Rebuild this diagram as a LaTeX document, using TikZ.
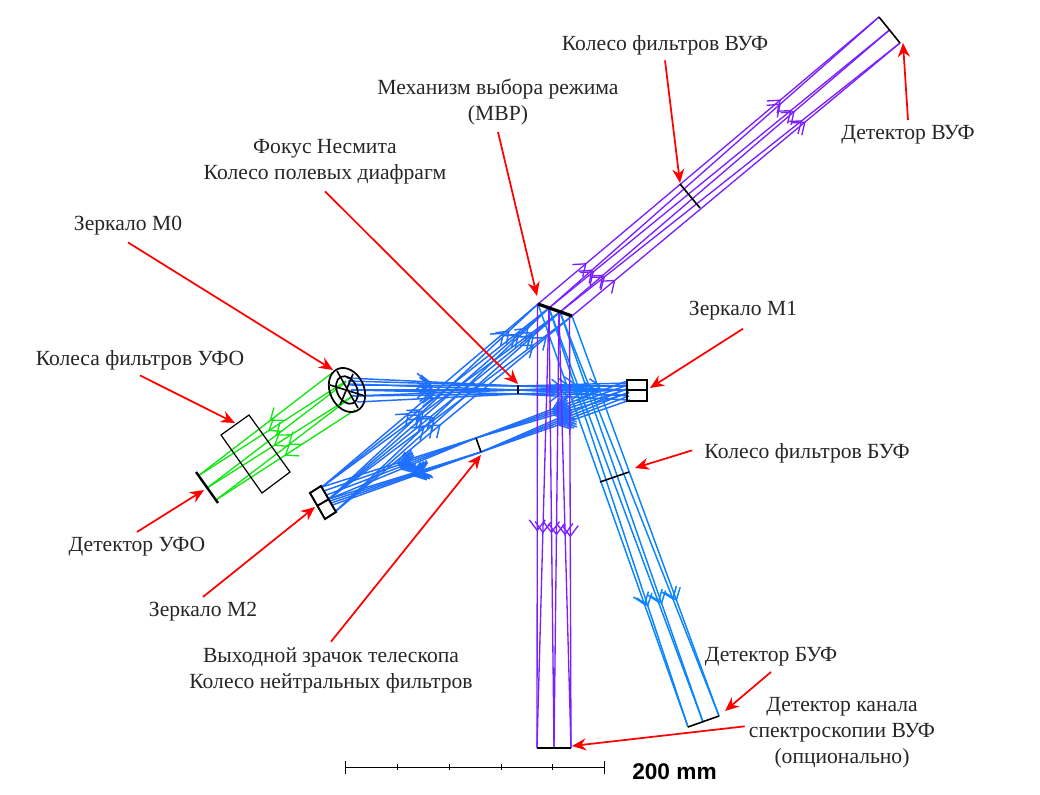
\documentclass[tikz,border=0pt]{standalone}
\usepackage{fontspec}
\setmainfont{Liberation Serif}
\newfontfamily\scalefont{Liberation Sans}
\usetikzlibrary{arrows.meta,calc,decorations.markings}
\definecolor{uvcol}{HTML}{12E612}
\definecolor{bluecol}{HTML}{1F6FFF}
\definecolor{fuvcol}{HTML}{0A84FF}
\definecolor{vuvcol}{HTML}{7A1FFF}
\definecolor{txtcol}{HTML}{262626}
\tikzset{
  lbl/.style={text=txtcol,align=center,inner sep=0pt,font=\fontsize{16.2}{19.5}\selectfont},
  callout/.style={red,line width=1.3pt,-{Stealth[length=10.5pt,width=9pt]}},
  optic/.style={black,line width=1.2pt},
  barbat/.style={postaction={decorate,decoration={markings,mark=at position #1 with {\draw (-8pt,6pt) -- (0pt,0pt) -- (-8pt,-6pt);}}}},
  greenray/.style={uvcol,line width=1pt},
  blueray/.style={bluecol,line width=1.1pt},
  fuvray/.style={fuvcol,line width=1.1pt},
  vuvray/.style={vuvcol,line width=1pt}
}
\begin{document}
\begin{tikzpicture}[x=0.75pt,y=-0.75pt]
  \useasboundingbox (0,0) rectangle (1040,795);
  % points of the optics
  \coordinate (Q1) at (538,304);
  \coordinate (Q2) at (549,308);
  \coordinate (Q3) at (560,312);
  \coordinate (Q4) at (572,316);
  \coordinate (P1) at (322,487);
  \coordinate (P2) at (329,499);
  \coordinate (P3) at (336,511);
  \coordinate (PU) at (476,438);
  \coordinate (PL) at (481,452);
  \coordinate (V1) at (879,17);
  \coordinate (V2) at (889.5,30);
  \coordinate (V3) at (900,43);
  \coordinate (B1) at (688,727);
  \coordinate (B2) at (703,722);
  \coordinate (B3) at (719,716);
  \coordinate (S1) at (537,748);
  \coordinate (S2) at (554,748);
  \coordinate (S3) at (571,748);
  \coordinate (G1) at (198,476);
  \coordinate (G2) at (207,488);
  \coordinate (G3) at (216,500);

  % green channel
  \foreach \xa/\ya/\g/\p in {332/373/G1/0.46, 346/381/G1/0.52, 346/382/G2/0.50, 354/395/G2/0.54, 354/395/G3/0.47, 355/410/G3/0.50}
    \draw [greenray,barbat=\p] (\xa,\ya) -- (\g);

  % M0 to M1 through the Nesmith focus
  \foreach \xa/\ya/\yf/\yb/\p/\pb in {347/378/386/390/0.47/0.40, 348/381/386/386/0.49/0.46, 349/385/386/383/0.48/0.52, 350/384/390/396/0.49/0.64, 351/390/390/390/0.46/0.70, 352/396/390/385/0.47/0.75, 353/390/394/400/0.50/0.46, 355/396/394/395/0.48/0.38, 357/402/394/390/0.47/0.58}
  {
    \draw [blueray,barbat=\p] (\xa,\ya) -- (518,\yf);
    \draw [blueray,barbat=\pb] (518,\yf) -- (628,\yb);
  }

  % M1 to M2 through the exit pupil
  \foreach \xa/\ya/\t in {627/381/0, 628/385/0.16, 628/389/0.33, 629/393/0.5}
  {
    \draw [blueray,barbat=0.45,barbat=0.47,barbat=0.49] (\xa,\ya) -- (PU);
    \draw [blueray,barbat=0.47,barbat=0.49,barbat=0.51] (PU) -- ($(P1)!\t!(P3)$);
    \draw [blueray,barbat=0.44,barbat=0.46,barbat=0.48] (\xa+1,\ya+7) -- (PL);
    \draw [blueray,barbat=0.41,barbat=0.43,barbat=0.45] (PL) -- ($(P2)!\t!(P3)$);
  }

  % M2 to the mode selector
  \foreach \a/\b/\p/\pb in {P1/Q1/0.40/0.84, P1/Q2/0.43/0.85, P1/Q3/0.41/0.88, P2/Q1/0.45/0.86, P2/Q2/0.42/0.86, P2/Q3/0.44/0.87, P2/Q4/0.39/0.84, P3/Q2/0.46/0.90, P3/Q3/0.43/0.88, P3/Q4/0.44/0.89}
    \draw [blueray,barbat=\p,barbat=\pb] (\a) -- (\b);

  % mode selector to the far UV detector
  \foreach \a/\b in {Q1/B1, Q2/B1, Q2/B2, Q3/B2, Q3/B3, Q4/B3}
    \draw [fuvray,barbat=0.71] (\a) -- (\b);

  % mode selector to the spectroscopy detector
  \foreach \xa/\ya/\b in {537.5/304/S1, 549/308/S1, 549/308/S2, 559/312/S2, 559/312/S3, 569.5/316/S3}
    \draw [vuvray,barbat=0.51] (\xa,\ya) -- (\b);

  % mode selector to the VUV detector
  \foreach \a/\b/\p/\pb in {Q1/V1/0.14/0.71, Q2/V1/0.13/0.70, Q2/V2/0.13/0.71, Q3/V2/0.13/0.71, Q3/V3/0.13/0.71, Q4/V3/0.13/0.71}
    \draw [vuvray,barbat=\p,barbat=\pb] (\a) -- (\b);

  % optical elements
  \draw [optic] (V1) -- (V3);
  \draw [optic] (680,184) -- (700,208);
  \draw [black,line width=2.4pt] (Q1) -- (Q4);
  \draw [optic] (518,385) -- (518,394);
  \draw [optic] (PU) -- (PL);
  \draw [optic] (600,482) -- (629,472);
  \draw [optic] (B1) -- (B3);
  \draw [optic,line width=1.5pt] (S1) -- (S3);
  \draw [optic,line width=1.5pt] (627,380) rectangle (647,401);
  \draw [optic,line width=1.5pt] (627,390) -- (647,390);
  \draw [optic,line width=1.5pt] (310,493) -- (321,486) -- (336,512) -- (325,519) -- cycle;
  \draw [optic,line width=1.5pt] (317,506) -- (329,499);
  \draw [optic,line width=1.8pt] (196,472) -- (218,503);
  \draw [optic,line width=0.9pt] (249,415) -- (290,472) -- (262,493) -- (221,435) -- cycle;
  \draw [optic,line width=1.3pt,rotate around={-65:(347,390)}] (347,390) ellipse [x radius=23,y radius=17];
  \draw [optic,line width=1.3pt,rotate around={-65:(347,390)}] (347,390) ellipse [x radius=14.5,y radius=10];
  \draw [optic] (337,371) -- (358,408);
  \draw [optic] (330,385) -- (365,396);
  \draw [optic] (353,374) -- (340,405);

  % labels
  \node [lbl] (colvuv) at (665,45) {Колесо фильтров ВУФ};
  \node [lbl] (detvuv) at (908,135) {Детектор ВУФ};
  \node [lbl] (mbp) at (498,102) {Механизм выбора режима\\(МВР)};
  \node [lbl] (nesm) at (325,162) {Фокус Несмита\\Колесо полевых диафрагм};
  \node [lbl] (zmzero) at (128,226) {Зеркало М0};
  \node [lbl] (coluv) at (140,360) {Колеса фильтров УФО};
  \node [lbl] (detuv) at (137,547) {Детектор УФО};
  \node [lbl] (zmtwo) at (203,612) {Зеркало М2};
  \node [lbl] (pupil) at (331,670) {Выходной зрачок телескопа\\Колесо нейтральных фильтров};
  \node [lbl] (zmone) at (743,311) {Зеркало М1};
  \node [lbl] (colfuv) at (807,453) {Колесо фильтров БУФ};
  \node [lbl] (detfuv) at (771,657) {Детектор БУФ};
  \node [lbl] (detsp) at (842,733) {Детектор канала\\спектроскопии ВУФ\\(опционально)};

  % callouts
  \coordinate (tcolvuv) at (680,183);
  \coordinate (tdetvuv) at (903,43);
  \coordinate (tmbp) at (537,296);
  \coordinate (tnesm) at (518,384);
  \coordinate (tzmzero) at (333,370);
  \coordinate (tcoluv) at (235,423);
  \coordinate (tdetuv) at (204,490);
  \coordinate (tzmtwo) at (315,507);
  \coordinate (tpupil) at (481,455);
  \coordinate (tzmone) at (650,388);
  \coordinate (tcolfuv) at (635,468);
  \coordinate (tdetfuv) at (725,711);
  \coordinate (tdetsp) at (572,746);
  \draw [callout] ([yshift=-4pt]colvuv.south) -- (tcolvuv);
  \draw [callout] ([yshift=4pt]detvuv.north) -- (tdetvuv);
  \draw [callout] ([yshift=-5pt]mbp.south) -- (tmbp);
  \draw [callout] ([yshift=-5pt]nesm.south) -- (tnesm);
  \draw [callout] ([yshift=-5pt]zmzero.south) -- (tzmzero);
  \draw [callout] ([yshift=-4pt]coluv.south) -- (tcoluv);
  \draw [callout] ([yshift=4pt]detuv.north) -- (tdetuv);
  \draw [callout] ([yshift=4pt]zmtwo.north) -- (tzmtwo);
  \draw [callout] ([yshift=4pt]pupil.north) -- (tpupil);
  \draw [callout] ([yshift=-6pt]zmone.south) -- (tzmone);
  \draw [callout] ([xshift=-9pt,yshift=2pt]colfuv.west) -- (tcolfuv);
  \draw [callout] ([yshift=-4pt]detfuv.south) -- (tdetfuv);
  \draw [callout] ([xshift=-3pt,yshift=5pt]detsp.west) -- (tdetsp);

  % scale bar
  \coordinate (SA) at (345,767);
  \coordinate (SB) at (604,767);
  \draw [black,line width=0.5pt] (SA) -- (SB);
  \draw [black,line width=0.5pt] (345,761) -- (345,774);
  \draw [black,line width=0.5pt] (604,761) -- (604,774);
  \foreach \x in {397,449,501,552}
    \draw [black,line width=0.5pt] (\x,764) -- (\x,770);
  \node [inner sep=0pt,font=\scalefont\bfseries\fontsize{17}{20}\selectfont] (scalelbl) at (674.5,772) {200 mm};
\end{tikzpicture}
\end{document}
